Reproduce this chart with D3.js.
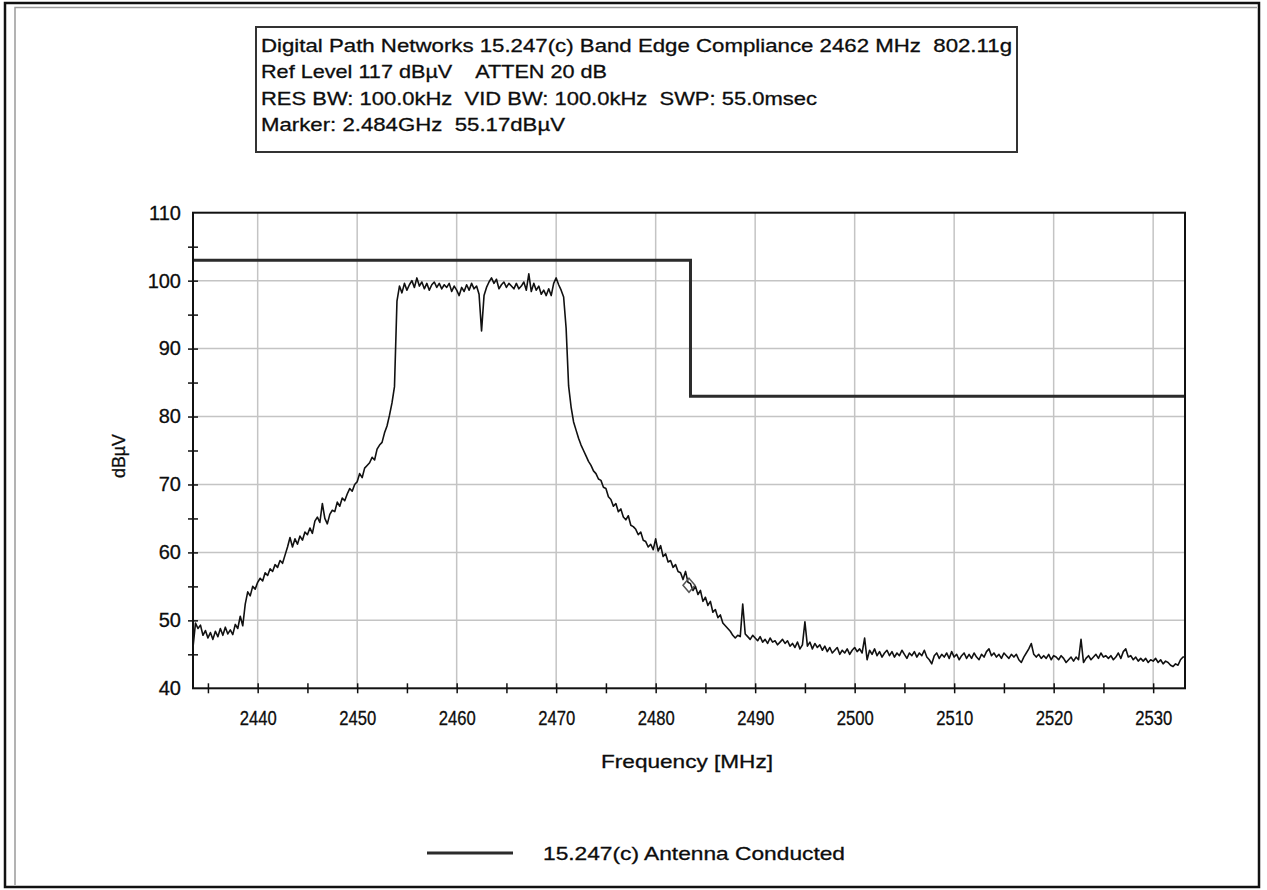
<!DOCTYPE html>
<html><head><meta charset="utf-8">
<script src="https://cdn.jsdelivr.net/npm/d3@7"></script>
<style>
body{margin:0;background:#fff}
svg{display:block}
text{font-family:Arial,"Liberation Sans",sans-serif;fill:#0d0d0d;white-space:pre;stroke:#0d0d0d;stroke-width:0.3px}
</style>
</head><body>
<svg id="c" width="1267" height="890"></svg>
<script>
// ---- data ----
const sweepStartMHz = 2433.5;   // first sweep point
const sweepStepMHz = 0.25;      // sweep point spacing
// measured trace level (dBµV), 20 points per 5 MHz row
const traceLevels = [
  46.0,49.6,48.8,49.3,47.8,48.5,47.4,48.2,47.2,48.4,47.6,48.8,47.8,49.0,48.0,48.6,47.9,49.4,48.8,50.6,
  49.2,52.4,54.2,53.6,55.0,54.6,55.6,56.2,55.8,57.0,56.6,57.6,57.2,58.2,57.8,58.8,58.4,59.6,60.8,62.2,
  60.8,62.0,61.2,62.4,61.8,63.0,62.6,63.6,62.8,64.6,65.2,64.4,67.2,65.0,64.2,65.6,66.2,66.0,67.4,66.8,
  68.0,67.6,68.6,69.4,69.0,70.0,70.4,71.6,71.0,72.4,72.8,73.2,74.0,73.6,75.2,75.8,76.2,77.6,78.6,80.2,
  82.0,84.4,97.0,99.2,98.2,99.6,98.6,99.4,100.0,99.0,100.4,99.2,99.8,98.8,99.6,98.6,99.4,99.8,99.0,99.6,
  98.8,99.4,99.0,99.6,98.4,99.2,98.6,97.8,99.0,98.4,99.4,98.6,99.6,98.8,99.2,98.0,92.6,97.8,99.0,99.8,
  100.4,99.6,100.2,98.8,99.4,99.8,99.0,99.6,99.2,98.8,99.6,98.8,99.2,99.8,98.6,101.0,98.4,99.6,98.6,99.2,
  98.0,98.6,97.8,98.8,97.8,99.6,100.4,99.4,98.6,97.6,93.0,84.5,81.4,79.2,78.0,76.8,75.8,75.0,74.2,73.4,
  72.8,72.0,71.6,70.8,70.6,69.6,69.4,68.2,67.8,66.8,67.2,66.0,66.4,65.2,64.8,65.4,64.0,63.8,63.4,62.6,
  63.0,61.8,61.6,60.8,61.2,60.4,62.0,60.2,61.0,59.4,59.8,58.6,58.8,57.8,58.2,57.2,57.0,56.0,57.2,55.6,
  55.4,54.4,55.0,53.8,54.4,52.8,53.4,52.2,52.8,51.2,51.6,50.4,50.8,49.6,49.2,48.8,48.4,47.8,47.4,47.8,
  47.6,52.4,48.0,47.6,47.2,47.8,47.4,47.0,47.6,46.8,47.2,46.6,47.4,46.8,47.0,46.4,46.8,47.2,46.6,47.0,
  46.2,46.6,46.0,46.8,45.8,46.4,49.8,46.2,46.8,45.8,46.6,46.0,46.4,45.6,46.2,45.4,46.0,45.2,45.6,46.0,
  45.0,45.6,45.2,45.8,45.0,45.6,46.0,45.4,45.8,45.2,47.4,44.2,45.6,45.0,45.8,44.8,45.4,44.6,45.2,45.6,
  44.8,45.4,44.6,45.2,44.8,45.6,45.0,44.4,45.2,44.8,45.4,44.6,45.2,44.8,45.6,44.6,44.2,43.6,44.8,45.2,
  44.4,45.0,44.6,45.2,44.4,45.4,44.6,45.0,44.2,44.8,45.2,44.4,45.0,44.4,45.2,44.6,44.2,45.0,44.6,45.4,
  45.8,44.8,45.2,44.6,45.0,44.4,45.2,44.8,44.4,45.0,44.6,45.0,44.2,43.8,44.6,45.2,45.8,46.6,45.0,44.6,
  45.0,44.4,44.8,44.4,45.0,44.2,44.8,44.6,44.2,44.8,44.4,43.8,44.2,44.6,44.0,44.6,44.2,47.2,43.8,44.4,
  44.8,44.2,44.6,45.0,44.4,45.2,44.6,44.8,44.4,44.8,44.2,44.6,45.2,44.4,45.4,45.8,44.6,44.8,44.2,44.6,
  44.0,44.4,44.0,44.4,43.8,44.2,44.0,44.4,43.8,44.2,43.6,44.0,43.8,43.4,43.2,43.6,43.4,44.2,44.6,44.6
];
// FCC 15.247(c) limit line
const limitFreqs  = [2433.5, 2483.5, 2483.5, 2533.2];
const limitLevels = [103, 103, 83, 83];
// marker
const markerFreqs  = [2483.35];
const markerLevels = [55.17];
// axes
const xDomain = [2433.5, 2533.2];
const yDomain = [40, 110];
const xMajorTicks = [2440,2450,2460,2470,2480,2490,2500,2510,2520,2530];
const xAllTicks = [2435,2440,2445,2450,2455,2460,2465,2470,2475,2480,2485,2490,2495,2500,2505,2510,2515,2520,2525,2530];
const yMajorTicks = [40,50,60,70,80,90,100,110];
const yAllTicks = [45,50,55,60,65,70,75,80,85,90,95,100,105];
const xGridTicks = [2440,2450,2460,2470,2480,2490,2500,2510,2520,2530];
const yGridTicks = [50,60,70,80,90,100];
const headerLines = [
  "Digital Path Networks 15.247(c) Band Edge Compliance 2462 MHz  802.11g",
  "Ref Level 117 dB\u00B5V    ATTEN 20 dB",
  "RES BW: 100.0kHz  VID BW: 100.0kHz  SWP: 55.0msec",
  "Marker: 2.484GHz  55.17dB\u00B5V"
];
const headerWidths = [751, 346, 556, 304];
const xTitle = "Frequency [MHz]";
const yTitle = "dB\u00B5V";
const legendLabel = "15.247(c) Antenna Conducted";

// ---- drawing ----
const svg = d3.select("#c");
const L = 193, R = 1185, T = 212.7, B = 688.3;
const x = d3.scaleLinear().domain(xDomain).range([L, R]);
const y = d3.scaleLinear().domain(yDomain).range([B, T]);

// outer frame
svg.append("rect").attr("x",5).attr("y",3).attr("width",1254).attr("height",884)
  .attr("fill","none").attr("stroke","#111").attr("stroke-width",2.5);
svg.append("path").attr("d","M15,885 V7.5 H1257").attr("fill","none").attr("stroke","#9a9a9a").attr("stroke-width",1.5);

// header box
svg.append("rect").attr("x",256).attr("y",27).attr("width",761).attr("height",125)
  .attr("fill","#fff").attr("stroke","#333").attr("stroke-width",2);
const hb = [51.5, 78, 104.5, 131];
headerLines.forEach((t,i)=>{
  svg.append("text").attr("x",261).attr("y",hb[i]).attr("font-size",19)
    .attr("textLength",headerWidths[i]).attr("lengthAdjust","spacingAndGlyphs").text(t);
});

// grid
const g = svg.append("g");
g.selectAll(".gx").data(xGridTicks).join("line")
  .attr("x1",d=>x(d)).attr("x2",d=>x(d)).attr("y1",T).attr("y2",B)
  .attr("stroke","#c4c4c4").attr("stroke-width",1.5);
g.selectAll(".gy").data(yGridTicks).join("line")
  .attr("x1",L).attr("x2",R).attr("y1",d=>y(d)).attr("y2",d=>y(d))
  .attr("stroke","#c4c4c4").attr("stroke-width",1.5);

// clip
svg.append("clipPath").attr("id","clip").append("rect")
  .attr("x",L).attr("y",T).attr("width",R-L).attr("height",B-T);

// limit line
const lim = limitFreqs.map((f,i)=>[f,limitLevels[i]]);
svg.append("path").datum(lim).attr("clip-path","url(#clip)")
  .attr("d", d3.line().x(d=>x(d[0])).y(d=>y(d[1])))
  .attr("fill","none").attr("stroke","#2b2b2b").attr("stroke-width",3);

// trace
svg.append("path").datum(traceLevels).attr("clip-path","url(#clip)")
  .attr("d", d3.line().x((d,i)=>x(sweepStartMHz + i*sweepStepMHz)).y(d=>y(d)))
  .attr("fill","none").attr("stroke","#111").attr("stroke-width",1.6).attr("stroke-linejoin","round");

// marker diamond
svg.selectAll(".mk").data(markerFreqs).join("path")
  .attr("transform",(d,i)=>`translate(${x(d)},${y(markerLevels[i])})`)
  .attr("d","M0,-7 L6,0 L0,7 L-6,0 Z")
  .attr("fill","none").attr("stroke","#555").attr("stroke-width",1.5);

// plot frame
svg.append("rect").attr("x",L).attr("y",T).attr("width",R-L).attr("height",B-T)
  .attr("fill","none").attr("stroke","#111").attr("stroke-width",2);

// ticks (crossing the axis lines)
const xt = svg.append("g").attr("transform",`translate(0,${B-5})`)
  .call(d3.axisBottom(x).tickValues(xAllTicks).tickSize(10).tickFormat(""));
xt.select(".domain").remove();
xt.selectAll("line").attr("stroke","#111").attr("stroke-width",1.5);
const yt = svg.append("g").attr("transform",`translate(${L+5},0)`)
  .call(d3.axisLeft(y).tickValues(yAllTicks).tickSize(10).tickFormat(""));
yt.select(".domain").remove();
yt.selectAll("line").attr("stroke","#111").attr("stroke-width",1.5);

// tick labels
const xl = svg.append("g").attr("transform",`translate(0,${B})`)
  .call(d3.axisBottom(x).tickValues(xMajorTicks).tickSize(0).tickPadding(23).tickFormat(d3.format("d")));
xl.select(".domain").remove();
xl.attr("font-size",20).attr("font-family",null);
xl.selectAll("text").attr("fill","#0d0d0d").attr("textLength",37).attr("lengthAdjust","spacingAndGlyphs");
const yl = svg.append("g").attr("transform",`translate(${L},0)`)
  .call(d3.axisLeft(y).tickValues(yMajorTicks).tickSize(0).tickPadding(12).tickFormat(d3.format("d")));
yl.select(".domain").remove();
yl.attr("font-size",20).attr("font-family",null);
yl.selectAll("text").attr("fill","#0d0d0d");

// axis titles
svg.append("text").attr("x",687).attr("y",768).attr("text-anchor","middle").attr("font-size",19)
  .attr("textLength",172).attr("lengthAdjust","spacingAndGlyphs").text(xTitle);
svg.append("text").attr("transform","translate(125,456) rotate(-90)").attr("text-anchor","middle")
  .attr("font-size",19).attr("textLength",44).attr("lengthAdjust","spacingAndGlyphs").text(yTitle);

// legend
svg.append("line").attr("x1",427).attr("x2",513).attr("y1",853).attr("y2",853)
  .attr("stroke","#2b2b2b").attr("stroke-width",3);
svg.append("text").attr("x",543).attr("y",859.5).attr("font-size",19)
  .attr("textLength",302).attr("lengthAdjust","spacingAndGlyphs").text(legendLabel);
</script>
</body></html>
